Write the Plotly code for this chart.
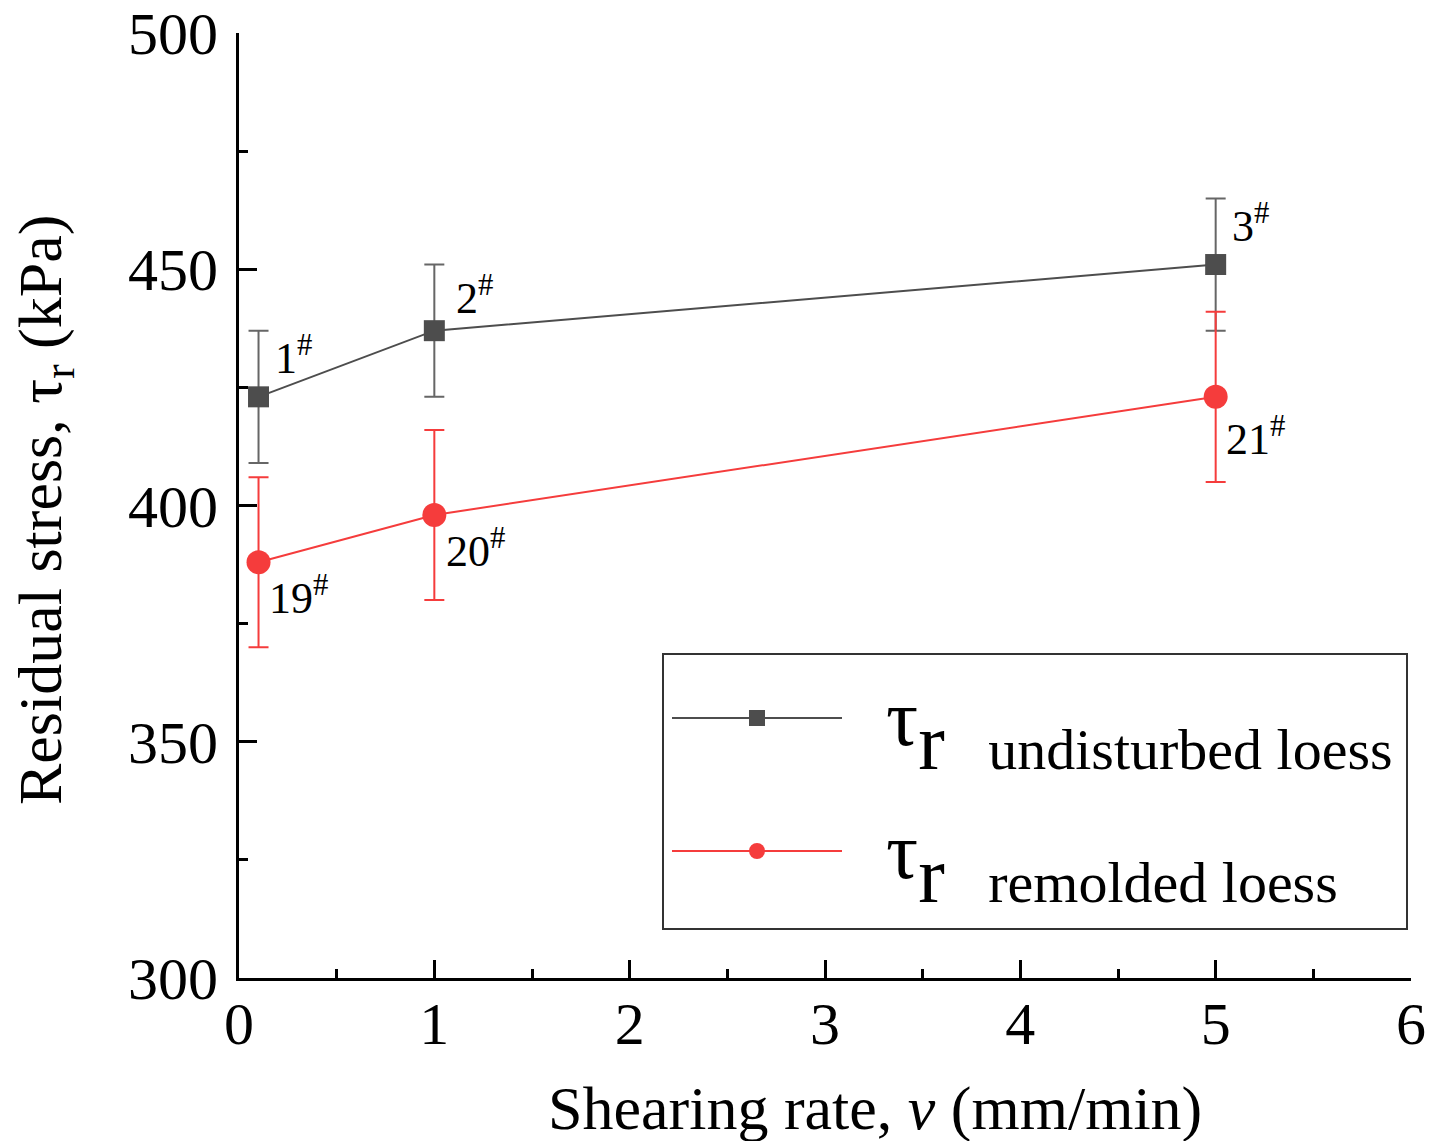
import plotly.graph_objects as go

rate = [0.1, 1, 5]
undisturbed = [423, 437, 451]
undisturbed_err = [14, 14, 14]
remolded = [388, 398, 423]
remolded_err = [18, 18, 18]
und_labels = ["1", "2", "3"]
rem_labels = ["19", "20", "21"]

FONT = "Liberation Serif, Times New Roman, serif"
GREY = "#4d4d4d"
RED = "#f53c3c"

# plot-area geometry in pixels (for converting layout positions to paper coords)
L, R, T, B = 239, 1411, 33, 978
W, H = R - L, B - T

# label pixel offsets (layout only)
und_dx = [14, 20, 14]
und_dy = [12, 6, 12]
rem_dx = [8, 10, 8]
rem_dy = [-4, -4, -10]


def px(xp):
    return (xp - L) / W


def py(yp):
    return (B - yp) / H


def leg_name(label):
    return ("<span style='font-size:78px'>&nbsp;&nbsp;</span>"
            "<span style='font-size:80px'>τ</span>"
            "<span style='font-size:114px'><sub>r"
            "<span style='font-size:58px'>&nbsp;&nbsp;&nbsp;" + label + "</span>"
            "</sub></span>")


fig = go.Figure()
fig.add_trace(go.Scatter(
    x=rate, y=undisturbed, mode="lines+markers",
    name=leg_name("undisturbed loess"),
    line=dict(color=GREY, width=2),
    marker=dict(symbol="square", size=21, color=GREY),
    error_y=dict(type="data", array=undisturbed_err, color="#666666", thickness=2, width=10),
    legendgroup="a",
))
fig.add_trace(go.Scatter(
    x=rate, y=remolded, mode="lines+markers",
    name=leg_name("remolded loess"),
    line=dict(color=RED, width=2),
    marker=dict(symbol="circle", size=24, color=RED),
    error_y=dict(type="data", array=remolded_err, color=RED, thickness=2, width=10),
    legendgroup="b",
))

for xv, yv, lab, dx, dy in zip(rate, undisturbed, und_labels, und_dx, und_dy):
    fig.add_annotation(x=xv, y=yv, xref="x", yref="y", text=lab + "<sup>#</sup>",
                       showarrow=False, xanchor="left", yanchor="bottom",
                       xshift=dx, yshift=dy, font=dict(family=FONT, size=44, color="black"))
for xv, yv, lab, dx, dy in zip(rate, remolded, rem_labels, rem_dx, rem_dy):
    fig.add_annotation(x=xv, y=yv, xref="x", yref="y", text=lab + "<sup>#</sup>",
                       showarrow=False, xanchor="left", yanchor="top",
                       xshift=dx, yshift=dy, font=dict(family=FONT, size=44, color="black"))

fig.add_annotation(x=px(875), y=py(1108), xref="paper", yref="paper",
                   text="Shearing rate, <i>v</i> (mm/min)", showarrow=False,
                   xanchor="center", yanchor="middle", font=dict(family=FONT, size=62, color="black"))
fig.add_annotation(x=px(44), y=py(510), xref="paper", yref="paper",
                   text="Residual stress, τ<sub>r</sub> (kPa)", showarrow=False, textangle=-90,
                   xanchor="center", yanchor="middle", font=dict(family=FONT, size=62, color="black"))

# legend frame
fig.add_shape(type="rect", xref="paper", yref="paper",
              x0=px(663), x1=px(1407), y0=py(929), y1=py(654),
              line=dict(color="#333333", width=2), fillcolor="white", layer="below")

axis_common = dict(showline=True, linewidth=3, linecolor="black", ticks="inside",
                   ticklen=18, tickwidth=3, tickcolor="black", showgrid=False, zeroline=False,
                   tickfont=dict(family=FONT, size=60, color="black"), mirror=False,
                   automargin=False)
fig.update_xaxes(range=[0, 6], dtick=1, tick0=0,
                 minor=dict(dtick=0.5, ticks="inside", ticklen=9, tickwidth=3, tickcolor="black"),
                 ticklabelstandoff=-9, **axis_common)
fig.update_yaxes(range=[300, 500], dtick=50, tick0=300,
                 minor=dict(dtick=25, ticks="inside", ticklen=9, tickwidth=3, tickcolor="black"),
                 ticklabelstandoff=6, **axis_common)

fig.update_layout(
    width=1444, height=1141,
    margin=dict(l=L, r=1444 - R, t=T, b=1141 - B, autoexpand=False),
    plot_bgcolor="white", paper_bgcolor="white",
    font=dict(family=FONT, color="black"),
    showlegend=True,
    legend=dict(x=px(667), xanchor="left", y=py(666), yanchor="top",
                borderwidth=0, bgcolor="rgba(0,0,0,0)",
                font=dict(family=FONT, size=70, color="black"),
                itemwidth=170, tracegroupgap=39, traceorder="grouped"),
)

fig.write_html("out.html")
